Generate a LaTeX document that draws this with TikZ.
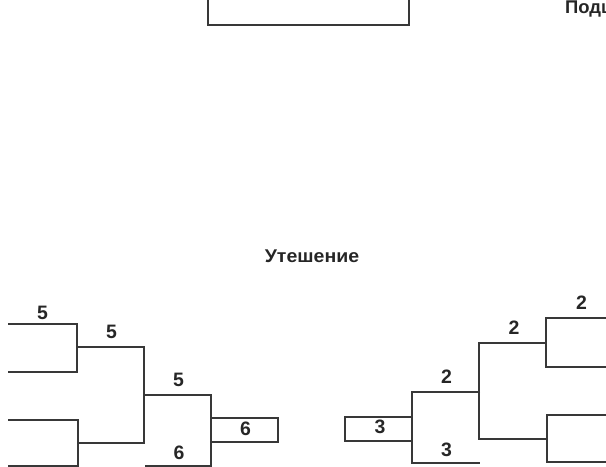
\documentclass[tikz,border=0pt]{standalone}
\usepackage{fontspec}
\setmainfont{Liberation Sans}
\definecolor{ink}{HTML}{383838}
\definecolor{txt}{HTML}{262626}
\begin{document}
\begin{tikzpicture}[x=1bp,y=-1bp,
  br/.style={line width=1.9bp, draw=ink},
  lbl/.style={font=\bfseries\fontsize{19.5}{19.5}\selectfont, text=txt, inner sep=0pt},
  ttl/.style={font=\bfseries\fontsize{18.5}{18.5}\selectfont, text=txt, inner sep=0pt}]
\useasboundingbox (0,0) rectangle (606,467);
\clip (0,0) rectangle (606,467);
% top box and header fragment
\draw[line width=2.8bp, draw=ink] (208,-10) rectangle (409,25);
\node[ttl, anchor=west] (hdr) at (565,9) {Подш};
% title
\node[ttl, xscale=1.06] (title) at (312,256) {Утешение};
% left bracket
\draw[br] (8,324) -| (77,372) -- (8,372);
\draw[br] (8,420) -| (78,466) -- (8,466);
\draw[br] (77,347) -| (144,443) -- (78,443);
\draw[br] (144,395) -| (211,466) -- (145,466);
\draw[br] (211,418) rectangle (278,442);
\node[lbl] (l1) at (42.5,312.5) {5};
\node[lbl] (l2) at (111.5,331.5) {5};
\node[lbl] (l3) at (178.5,380) {5};
\node[lbl] (l4) at (179,452.5) {6};
\node[lbl] (l5) at (245.5,428.5) {6};
% right bracket
\draw[br] (345,417) rectangle (412,441);
\draw[br] (480,392) -| (412,463) -- (480,463);
\draw[br] (546,343) -| (479,439) -- (547,439);
\draw[br] (606,318) -| (546,367) -- (606,367);
\draw[br] (606,415) -| (547,462) -- (606,462);
\node[lbl] (r1) at (380,427) {3};
\node[lbl] (r2) at (446.5,377) {2};
\node[lbl] (r3) at (446.5,449.5) {3};
\node[lbl] (r4) at (514,328) {2};
\node[lbl] (r5) at (581.5,303) {2};
\end{tikzpicture}
\end{document}
